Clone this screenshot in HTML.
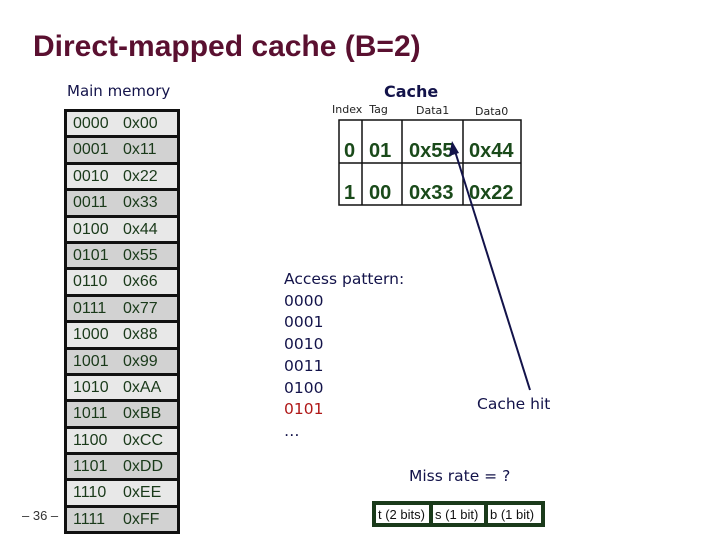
<!DOCTYPE html>
<html><head><style>
body{margin:0;width:720px;height:540px;background:#fff;position:relative;overflow:hidden;font-family:"Liberation Sans",sans-serif}
.a{position:absolute;white-space:nowrap}
.t{font-family:"DejaVu Sans",sans-serif;color:#13134a}
.mem{position:absolute;left:64px;top:109px;width:110px;border:3px solid #111;border-bottom:none}
.mem div{height:23.4px;border-bottom:3px solid #111;font-size:16px;color:#1a3a1a;line-height:24px;padding-left:6px}
.mem div span{display:inline-block;width:50px}
.mem div:nth-child(odd){background:#e8e8e8}
.mem div:nth-child(even){background:#d2d2d2}
</style></head><body>
<div class="a" style="left:33px;top:30px;font-size:30px;font-weight:bold;color:#5a1030">Direct-mapped cache (B=2)</div>
<div class="a t" style="left:67px;top:82px;font-size:15px">Main memory</div>
<div class="a t" style="left:384px;top:82px;font-size:16px;font-weight:bold">Cache</div>
<div class="a t" style="left:332px;top:103px;font-size:11px;color:#222">Index&nbsp; Tag</div>
<div class="a t" style="left:416px;top:104px;font-size:11px;color:#222">Data1</div>
<div class="a t" style="left:475px;top:105px;font-size:11px;color:#222">Data0</div>
<div class="mem">
<div><span>0000</span>0x00</div><div><span>0001</span>0x11</div><div><span>0010</span>0x22</div><div><span>0011</span>0x33</div>
<div><span>0100</span>0x44</div><div><span>0101</span>0x55</div><div><span>0110</span>0x66</div><div><span>0111</span>0x77</div>
<div><span>1000</span>0x88</div><div><span>1001</span>0x99</div><div><span>1010</span>0xAA</div><div><span>1011</span>0xBB</div>
<div><span>1100</span>0xCC</div><div><span>1101</span>0xDD</div><div><span>1110</span>0xEE</div><div><span>1111</span>0xFF</div>
</div>
<div class="a" style="left:22px;top:508px;font-size:13px;color:#333">– 36 –</div>
<svg class="a" style="left:0;top:0" width="720" height="540">
<g fill="none" stroke="#111" stroke-width="1.5">
<rect x="339" y="120" width="182" height="85"/>
<line x1="339" y1="163" x2="521" y2="163"/>
<line x1="362" y1="120" x2="362" y2="205"/>
<line x1="402" y1="120" x2="402" y2="205"/>
<line x1="463" y1="120" x2="463" y2="205"/>
</g>
<g font-family="Liberation Sans" font-weight="bold" font-size="20" fill="#1a4a1a">
<text x="344" y="157">0</text><text x="369" y="157">01</text><text x="409" y="157">0x55</text><text x="469" y="157">0x44</text>
<text x="344" y="199">1</text><text x="369" y="199">00</text><text x="409" y="199">0x33</text><text x="469" y="199">0x22</text>
</g>
<line x1="530" y1="390" x2="454" y2="148" stroke="#13134a" stroke-width="2"/>
<polygon points="452,141 449,156 459,153" fill="#13134a"/>
<rect x="372" y="501" width="173" height="26" fill="#1a3a1a"/>
<rect x="376" y="505" width="53" height="18" fill="#fff"/>
<rect x="433" y="505" width="51" height="18" fill="#fff"/>
<rect x="488" y="505" width="53" height="18" fill="#fff"/>
<g font-family="Liberation Sans" font-size="13" fill="#111">
<text x="378" y="519">t (2 bits)</text><text x="435" y="519">s (1 bit)</text><text x="490" y="519">b (1 bit)</text>
</g>
</svg>
<div class="a t" style="left:284px;top:269px;font-size:15.5px;line-height:21.7px">Access pattern:<br>0000<br>0001<br>0010<br>0011<br>0100<br><span style="color:#b01818">0101</span><br>…</div>
<div class="a t" style="left:477px;top:395px;font-size:15.5px">Cache hit</div>
<div class="a t" style="left:409px;top:467px;font-size:15.5px">Miss rate = ?</div>
</body></html>
